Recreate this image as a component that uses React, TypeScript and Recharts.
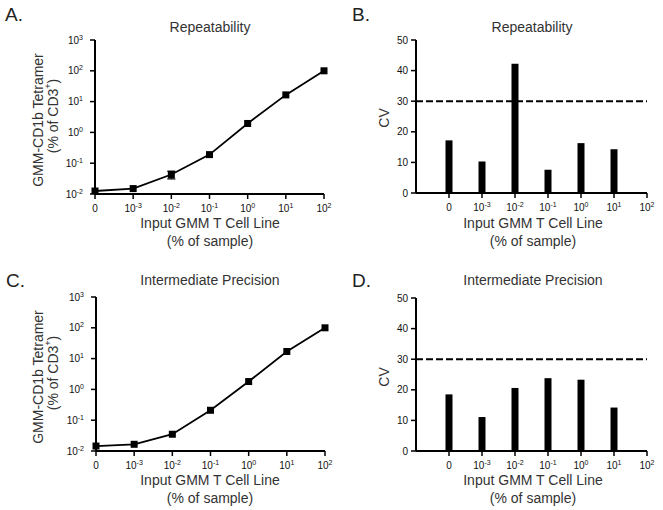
import React from "react";
import {LineChart, Line, BarChart, Bar, XAxis, YAxis, ReferenceLine, ErrorBar} from "recharts";

// x positions 0..6, labelled like the GraphPad figure
const xPositions = [0, 1, 2, 3, 4, 5, 6];
const xTickLabels = ["0", "10^-3", "10^-2", "10^-1", "10^0", "10^1", "10^2"];
const logTicks = [0.01, 0.1, 1, 10, 100, 1000];
const cvTicks = [0, 10, 20, 30, 40, 50];

// % tetramer+ of CD3+ (A: repeatability, C: intermediate precision)
const repeatTetramer = [0.0125, 0.015, 0.043, 0.19, 1.95, 16.5, 100];
const repeatErr = [0, 0, 0.012, 0, 0, 0, 0];
const precisionTetramer = [0.0145, 0.0165, 0.035, 0.21, 1.8, 17, 100];

// CV per input level (B and D)
const repeatCV = [17.2, 10.3, 42.2, 7.6, 16.3, 14.3];
const precisionCV = [18.5, 11.1, 20.6, 23.8, 23.3, 14.2];
const cvLimit = 30;

const FONT = "'Liberation Sans', Arial, Helvetica, sans-serif";
const TEXT = "#333";

const splitPow = (label: string) => {
    const parts = label.split("^");
    return {base: parts[0], exp: parts[1]};
};

const XTick = ({x, y, payload}: any) => {
    const label = xTickLabels[payload.value];
    if (label === undefined) return null;
    const {base, exp} = splitPow(label);
    return (
        <text x={x} y={y} dy="0.71em" textAnchor="middle" fontSize={10} fill="#111" fontFamily={FONT}>
            <tspan>{base}</tspan>
            {exp !== undefined && <tspan dy={-4} fontSize={7}>{exp}</tspan>}
        </text>
    );
};

const LogTick = ({x, y, payload}: any) => {
    const exp = Math.round(Math.log10(payload.value));
    return (
        <text x={x} y={y} dy="0.35em" textAnchor="end" fontSize={10} fill="#111" fontFamily={FONT}>
            <tspan>10</tspan>
            <tspan dy={-4} fontSize={7}>{exp}</tspan>
        </text>
    );
};

const Square = (props: any) => {
    const {cx, cy, index} = props;
    if (cx == null || cy == null) return <g key={`d-${index}`}/>;
    return <rect key={`d-${index}`} x={cx - 3.5} y={cy - 3.5} width={7} height={7} fill="#000"/>;
};

const axisLine = {stroke: "#000", strokeWidth: 2};
const tickLine = {stroke: "#000", strokeWidth: 1.5};

const TetramerPanel = ({values, errors, margin}: any) => {
    const data = xPositions.map((x, i) => ({x, y: values[i], err: errors ? errors[i] : 0}));
    return (
        <LineChart width={345} height={255} data={data} margin={margin}>
            <XAxis dataKey="x" type="number" domain={[0, 6]} ticks={xPositions} interval={0}
                   axisLine={axisLine} tickLine={tickLine} tickSize={5} tickMargin={6}
                   tick={<XTick/>} height={30}/>
            <YAxis type="number" scale="log" domain={[0.01, 1000]} ticks={logTicks} interval={0}
                   allowDataOverflow axisLine={axisLine} tickLine={tickLine} tickSize={5} tickMargin={7}
                   tick={<LogTick/>} width={40}/>
            <Line dataKey="y" stroke="#000" strokeWidth={1.8} dot={Square} isAnimationActive={false}>
                {errors && <ErrorBar dataKey="err" width={4} stroke="#000" strokeWidth={1.3} direction="y"/>}
            </Line>
        </LineChart>
    );
};

const CVPanel = ({values, margin}: any) => {
    const data = values.map((v: number, i: number) => ({x: xPositions[i], cv: v}));
    return (
        <BarChart width={333} height={255} data={data} margin={margin} barSize={7}>
            <XAxis dataKey="x" type="number" domain={[-1, 6]} ticks={xPositions} interval={0}
                   axisLine={axisLine} tickLine={tickLine} tickSize={5} tickMargin={6}
                   tick={<XTick/>} height={30}/>
            <YAxis type="number" domain={[0, 50]} ticks={cvTicks} interval={0}
                   axisLine={axisLine} tickLine={tickLine} tickSize={5} tickMargin={3}
                   tick={{fontSize: 10, fill: "#111", fontFamily: FONT}} width={40}/>
            <Bar dataKey="cv" fill="#000" isAnimationActive={false}/>
            <ReferenceLine y={cvLimit} stroke="#000" strokeWidth={2} strokeDasharray="7 3"/>
        </BarChart>
    );
};

const XTitle = ({cx, y}: {cx: number; y: number}) => (
    <g>
        <text x={cx} y={y} textAnchor="middle" fontSize={14} fill={TEXT}>Input GMM T Cell Line</text>
        <text x={cx} y={y + 18} textAnchor="middle" fontSize={14} fill={TEXT}>(% of sample)</text>
    </g>
);

const TetramerTitle = ({x, cy}: {x: number; cy: number}) => (
    <g>
        <text x={x} y={cy} transform={`rotate(-90 ${x} ${cy})`} textAnchor="middle" dominantBaseline="central"
              fontSize={14} fill={TEXT}>GMM-CD1b Tetramer</text>
        <text x={x + 15} y={cy - 4} transform={`rotate(-90 ${x + 15} ${cy - 4})`} textAnchor="middle"
              dominantBaseline="central" fontSize={14} fill={TEXT}>
            <tspan>(% of CD3</tspan>
            <tspan dy={-5} fontSize={9}>+</tspan>
            <tspan dy={5}>)</tspan>
        </text>
    </g>
);

const CVTitle = ({x, cy}: {x: number; cy: number}) => (
    <text x={x} y={cy} transform={`rotate(-90 ${x} ${cy})`} textAnchor="middle" dominantBaseline="central"
          fontSize={14} fill={TEXT}>CV</text>
);

const App = () => {
    return (
        <div style={{position: "absolute", left: 0, top: 0, width: 663, height: 510, background: "#fff", fontFamily: FONT}}>
            <div style={{position: "absolute", left: 330, top: 0}}>
                <CVPanel values={repeatCV} margin={{top: 40, right: 16, left: 46, bottom: 32}}/>
            </div>
            <div style={{position: "absolute", left: 330, top: 255}}>
                <CVPanel values={precisionCV} margin={{top: 43, right: 16, left: 46, bottom: 29}}/>
            </div>
            <div style={{position: "absolute", left: 0, top: 0}}>
                <TetramerPanel values={repeatTetramer} errors={repeatErr}
                               margin={{top: 40, right: 21, left: 55, bottom: 31}}/>
            </div>
            <div style={{position: "absolute", left: 0, top: 255}}>
                <TetramerPanel values={precisionTetramer} margin={{top: 42, right: 20, left: 56, bottom: 29}}/>
            </div>
            <svg width={663} height={510} style={{position: "absolute", left: 0, top: 0, pointerEvents: "none"}}
                 fontFamily={FONT}>
                <text x={5} y={21} fontSize={19} fill="#222">A.</text>
                <text x={352} y={21} fontSize={19} fill="#222">B.</text>
                <text x={6} y={287} fontSize={19} fill="#222">C.</text>
                <text x={352} y={287} fontSize={19} fill="#222">D.</text>

                <text x={210} y={32} textAnchor="middle" fontSize={14} fill={TEXT}>Repeatability</text>
                <text x={532} y={32} textAnchor="middle" fontSize={14} fill={TEXT}>Repeatability</text>
                <text x={210} y={285} textAnchor="middle" fontSize={14} fill={TEXT}>Intermediate Precision</text>
                <text x={533} y={285} textAnchor="middle" fontSize={14} fill={TEXT}>Intermediate Precision</text>

                <XTitle cx={210} y={228}/>
                <XTitle cx={533} y={228}/>
                <XTitle cx={210} y={485}/>
                <XTitle cx={533} y={485}/>

                <TetramerTitle x={38} cy={120}/>
                <TetramerTitle x={38} cy={377}/>
                <CVTitle x={384} cy={118}/>
                <CVTitle x={384} cy={377}/>
            </svg>
        </div>
    );
};

export default App;
